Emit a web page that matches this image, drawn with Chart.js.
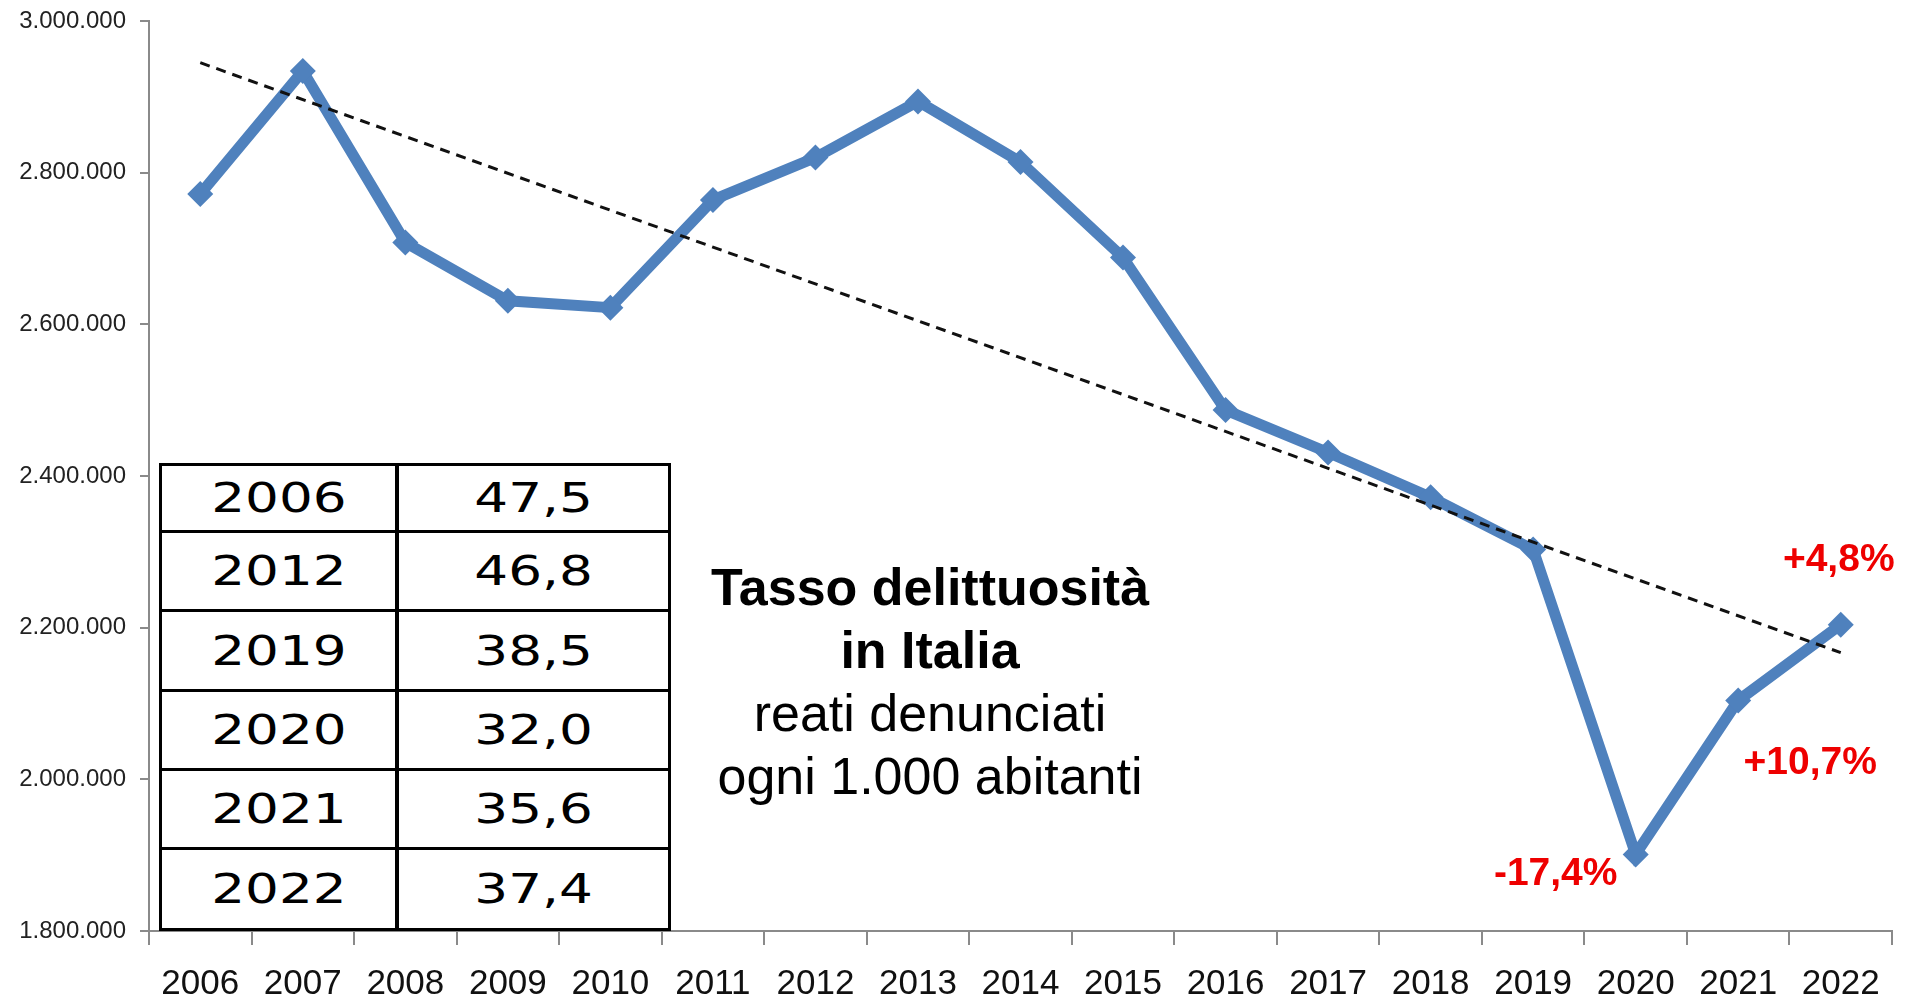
<!DOCTYPE html>
<html lang="it">
<head>
<meta charset="utf-8">
<title>Tasso delittuosità in Italia</title>
<script src="https://cdn.jsdelivr.net/npm/chart.js@4.4.1/dist/chart.umd.min.js"></script>
<style>
  html,body{margin:0;padding:0;background:#fff;}
  #wrap{position:relative;width:1905px;height:1000px;overflow:hidden;}
  #chart{position:absolute;left:0;top:0;}
  #rates{position:absolute;left:159px;top:463px;border-collapse:collapse;background:#fff;}
  #rates td{border:3px solid #000;padding:0;text-align:center;vertical-align:middle;
    font-family:"DejaVu Sans",Verdana,sans-serif;font-size:40px;color:#000;}
  #rates td.y{width:233px;border-right-width:4px;}
  #rates td.v{width:269px;}
  #rates td span{display:inline-block;transform:scaleX(1.33);}
  #title{position:absolute;left:630px;top:556px;width:600px;text-align:center;
    font-family:"Liberation Sans",Arial,sans-serif;font-size:52px;line-height:63px;color:#000;}
  #title b{font-weight:bold;}
</style>
</head>
<body>
<div id="wrap">
  <canvas id="chart" width="1905" height="1000"></canvas>
  <table id="rates"><tbody></tbody></table>
  <div id="title"><b>Tasso delittuosità</b><br><b>in Italia</b><br>reati denunciati<br>ogni 1.000 abitanti</div>
</div>
<script>
// reati denunciati per anno
const years = ["2006","2007","2008","2009","2010","2011","2012","2013","2014","2015","2016","2017","2018","2019","2020","2021","2022"];
const crimes = [2772000,2934000,2708000,2631000,2622000,2764000,2820000,2894000,2814000,2688000,2487000,2431000,2372000,2303000,1901000,2104000,2204000];

// linea di tendenza (estremi)
const trendYears = ["2006","2022"];
const trendValues = [2945000,2167000];

// variazioni annotate
const noteYears = ["2020","2021","2022"];
const noteTexts = ["-17,4%","+10,7%","+4,8%"];

// tabella tasso ogni 1.000 abitanti
const rateYears = ["2006","2012","2019","2020","2021","2022"];
const rateValues = ["47,5","46,8","38,5","32,0","35,6","37,4"];

const yTicks = [1800000,3000000,200000]; // min, max, step

// --- tabella
const rowH = [67,79,80,79,79,81];
const tbody = document.querySelector("#rates tbody");
rateYears.forEach((y,i)=>{
  const tr = document.createElement("tr");
  tr.style.height = rowH[i] + "px";
  tr.innerHTML = `<td class="y"><span>${y}</span></td><td class="v"><span>${rateValues[i]}</span></td>`;
  tbody.appendChild(tr);
});

const fmt = v => String(v).replace(/\B(?=(\d{3})+(?!\d))/g, ".");

const noteOffsets = { "2020":[-80,20], "2021":[72,63], "2022":[-2,-64] };

const notesPlugin = {
  id:"notes",
  afterDatasetsDraw(chart){
    const meta = chart.getDatasetMeta(1);
    const ctx = chart.ctx;
    ctx.save();
    ctx.font = 'bold 39px "Liberation Sans",Arial,sans-serif';
    ctx.fillStyle = "#ee0000";
    ctx.textAlign = "center";
    ctx.textBaseline = "middle";
    noteYears.forEach((y,i)=>{
      const pt = meta.data[years.indexOf(y)];
      const off = noteOffsets[y];
      ctx.fillText(noteTexts[i], pt.x + off[0], pt.y + off[1]);
    });
    ctx.restore();
  }
};

const axisGray = "#8a8a8a";
const sans = '"Liberation Sans",Arial,sans-serif';

new Chart(document.getElementById("chart"), {
  type:"line",
  data:{
    labels: years,
    datasets:[
      {
        label:"Tendenza",
        data: trendYears.map((y,i)=>({x:y, y:trendValues[i]})),
        borderColor:"#111",
        borderWidth:3,
        borderDash:[10,7],
        pointRadius:0,
        fill:false,
        order:0
      },
      {
        label:"Reati denunciati",
        data: crimes,
        borderColor:"#4f81bd",
        backgroundColor:"#4f81bd",
        borderWidth:11,
        pointStyle:"rectRot",
        pointRadius:13,
        pointBorderWidth:0,
        tension:0,
        fill:false,
        order:1
      }
    ]
  },
  options:{
    responsive:false,
    animation:false,
    layout:{ padding:{ top:0, right:2, left:0, bottom:0 } },
    plugins:{ legend:{ display:false }, tooltip:{ enabled:false } },
    scales:{
      x:{
        offset:true,
        grid:{ display:true, drawOnChartArea:false, drawTicks:true, tickLength:14, offset:true, color:axisGray, lineWidth:2 },
        border:{ color:axisGray, width:2 },
        ticks:{ font:{ family:sans, size:35 }, color:"#111", padding:18, maxRotation:0, autoSkip:false },
        afterFit(s){ s.height = 69; }
      },
      y:{
        min:yTicks[0], max:yTicks[1],
        grid:{ display:true, drawOnChartArea:false, drawTicks:true, tickLength:9, color:axisGray, lineWidth:2 },
        border:{ color:axisGray, width:2 },
        ticks:{ stepSize:yTicks[2], font:{ family:sans, size:24 }, color:"#222", padding:14, callback:v=>fmt(v) },
        afterFit(s){ s.width = 149; s.paddingTop = 21; s.paddingBottom = 0; }
      }
    }
  },
  plugins:[notesPlugin]
});
</script>
</body>
</html>
